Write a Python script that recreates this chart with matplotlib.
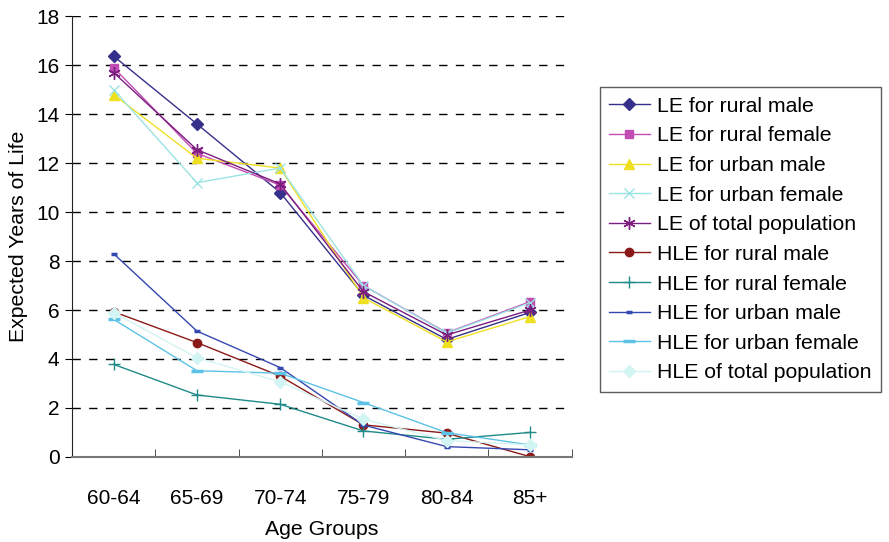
import matplotlib.pyplot as plt
from matplotlib.ticker import FixedLocator

plt.rcParams['font.family'] = ['Liberation Sans', 'DejaVu Sans']

age_groups = ["60-64", "65-69", "70-74", "75-79", "80-84", "85+"]

le_rural_male = [16.37, 13.6, 10.8, 6.6, 4.8, 5.9]
le_rural_female = [15.9, 12.4, 11.1, 7.0, 5.07, 6.34]
le_urban_male = [14.8, 12.2, 11.8, 6.5, 4.7, 5.73]
le_urban_female = [15.0, 11.2, 11.8, 7.0, 5.05, 6.3]
le_total = [15.7, 12.55, 11.15, 6.75, 4.98, 6.0]
hle_rural_male = [5.93, 4.67, 3.3, 1.31, 0.97, 0.01]
hle_rural_female = [3.78, 2.53, 2.15, 1.06, 0.72, 1.0]
hle_urban_male = [8.3, 5.14, 3.65, 1.3, 0.42, 0.29]
hle_urban_female = [5.62, 3.52, 3.42, 2.22, 0.99, 0.49]
hle_total = [5.89, 4.05, 3.07, 1.54, 0.67, 0.49]

series = [
    ("LE for rural male", le_rural_male, "#35308a", "D", 6),
    ("LE for rural female", le_rural_female, "#c24cb4", "s", 6),
    ("LE for urban male", le_urban_male, "#eee020", "^", 7),
    ("LE for urban female", le_urban_female, "#9ce3e3", "x", 7),
    ("LE of total population", le_total, "#7c1e80", (6, 2, 0), 9),
    ("HLE for rural male", hle_rural_male, "#8a1a18", "o", 6),
    ("HLE for rural female", hle_rural_female, "#1f8a88", "+", 9),
    ("HLE for urban male", hle_urban_male, "#3548b0", "_", 5),
    ("HLE for urban female", hle_urban_female, "#5cc2e6", "_", 8),
    ("HLE of total population", hle_total, "#d2f4f2", "D", 6),
]

fig = plt.figure(figsize=(8.89, 5.42), dpi=100)
ax = fig.add_axes([0.081, 0.157, 0.562, 0.813])

x = list(range(len(age_groups)))
for label, vals, color, marker, ms in series:
    mew = 2.5 if marker == "_" else 1.0
    ax.plot(x, vals, color=color, marker=marker, markersize=ms, linewidth=1.0,
            markeredgewidth=mew, label=label)

ax.set_xlim(-0.5, 5.5)
ax.set_ylim(0, 18)
ax.set_yticks(range(0, 19, 2))
ax.set_xticks(x)
ax.set_xticklabels(age_groups)
ax.xaxis.set_minor_locator(FixedLocator([i + 0.5 for i in range(6)]))
ax.tick_params(axis='x', which='major', length=0, pad=23, labelsize=15)
ax.tick_params(axis='x', which='minor', direction='in', length=6, color='#333333')
ax.tick_params(axis='y', labelsize=15, length=5, direction='out', pad=4)

ax.grid(axis='y', linestyle=(0, (6, 6)), color='black', linewidth=1.0)
ax.set_axisbelow(True)
for side in ['top', 'right']:
    ax.spines[side].set_visible(False)
ax.spines['left'].set_color('#222222')
ax.spines['bottom'].set_color('#777777')
ax.spines['bottom'].set_linewidth(1.5)

ax.set_xlabel("Age Groups", fontsize=15.3, labelpad=9)
ax.set_ylabel("Expected Years of Life", fontsize=15.3, labelpad=6)

leg = ax.legend(loc='upper left', bbox_to_anchor=(1.056, 0.839), fontsize=15.3,
                frameon=True, fancybox=False, edgecolor='#333333',
                handlelength=1.9, handletextpad=0.35, labelspacing=0.5,
                borderpad=0.45, borderaxespad=0)
leg.get_frame().set_linewidth(1.0)

fig.savefig("out.png", dpi=100)
